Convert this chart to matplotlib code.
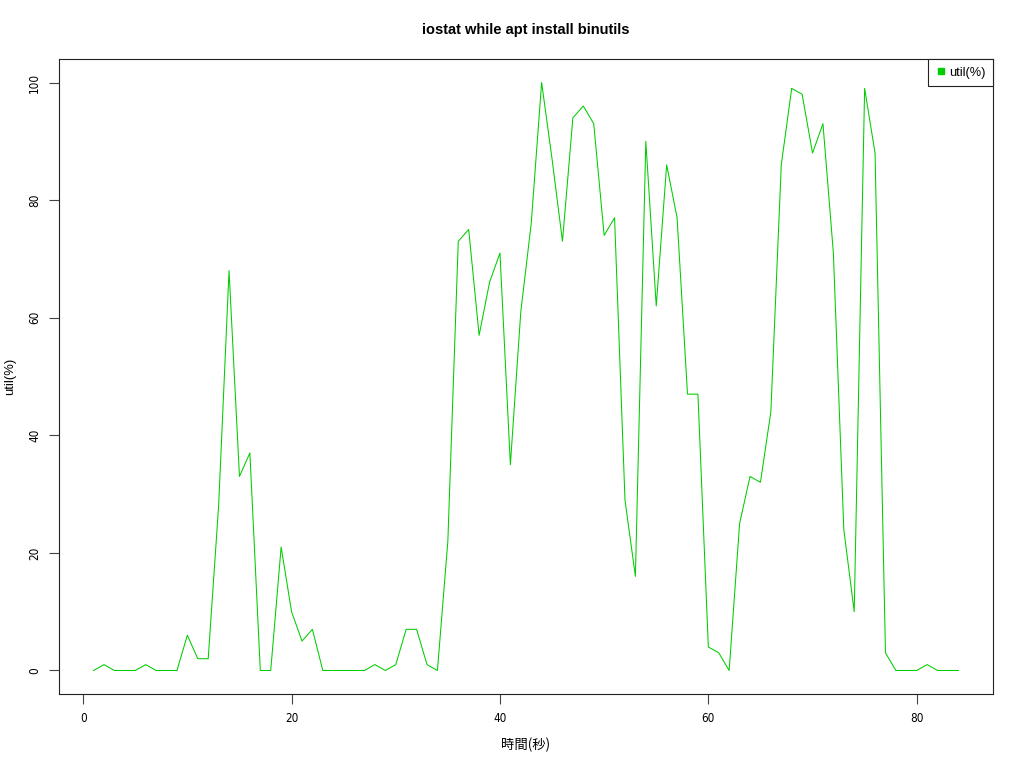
import numpy as np
import matplotlib.pyplot as plt
from matplotlib.lines import Line2D

# iostat util(%) per second
sec = np.arange(1, 85)
util = [0, 1, 0, 0, 0, 1, 0, 0, 0, 6,
        2, 2, 28, 68, 33, 37, 0, 0, 21, 10,
        5, 7, 0, 0, 0, 0, 0, 1, 0, 1,
        7, 7, 1, 0, 22, 73, 75, 57, 66, 71,
        35, 61, 76, 100, 87, 73, 94, 96, 93, 74,
        77, 29, 16, 90, 62, 86, 77, 47, 47, 4,
        3, 0, 25, 33, 32, 44, 86, 99, 98, 88,
        93, 71, 24, 10, 99, 88, 3, 0, 0, 0,
        1, 0, 0, 0]
xticks = [0, 20, 40, 60, 80]
yticks = [0, 20, 40, 60, 80, 100]

green = '#00CD00'

fig = plt.figure(figsize=(10.24, 7.68), dpi=100)
ax = fig.add_axes([59/1024, 1-694/768, (993-59)/1024, (694-59)/768])
ax.plot(sec, util, color=green, lw=0.75)
ax.set_xlim(1-0.04*83, 84+0.04*83)
ax.set_ylim(-4, 104)

ax.set_xticks(xticks)
ax.set_yticks(yticks)
ax.set_xticklabels([str(t) for t in xticks], family='DejaVu Sans',
                   stretch='condensed', fontsize=8.4)
ax.set_yticklabels([str(t) for t in yticks], family='DejaVu Sans',
                   stretch='condensed', fontsize=8.4, rotation=90, va='center')
ax.tick_params(direction='out', length=7, width=0.8, color='#444444', pad=6)
for s in ax.spines.values():
    s.set_linewidth(0.8)
    s.set_color('#222222')

fig.text(526/1024, 1-30/768, 'iostat while apt install binutils',
         ha='center', va='center', fontsize=10.5, fontweight='bold',
         family='Liberation Sans')
fig.text(526/1024, 1-745/768, '時間(秒)', ha='center', va='center',
         fontsize=9.6, family=['Noto Sans CJK JP', 'DejaVu Sans'])
fig.text(10/1024, 1-376/768, 'util(%)', ha='center', va='center',
         rotation=90, fontsize=9.4, family='Liberation Sans')

h = Line2D([], [], color=green, marker='s', ls='none', markersize=4)
leg = ax.legend([h], ['util(%)'], loc='upper right', borderaxespad=0,
                fancybox=False, framealpha=1, edgecolor='#222222',
                prop={'family': 'Liberation Sans', 'size': 9.2},
                handletextpad=0.15, handlelength=0.9, borderpad=0.6)
leg.get_frame().set_linewidth(0.8)

fig.savefig('out.png', dpi=100)
